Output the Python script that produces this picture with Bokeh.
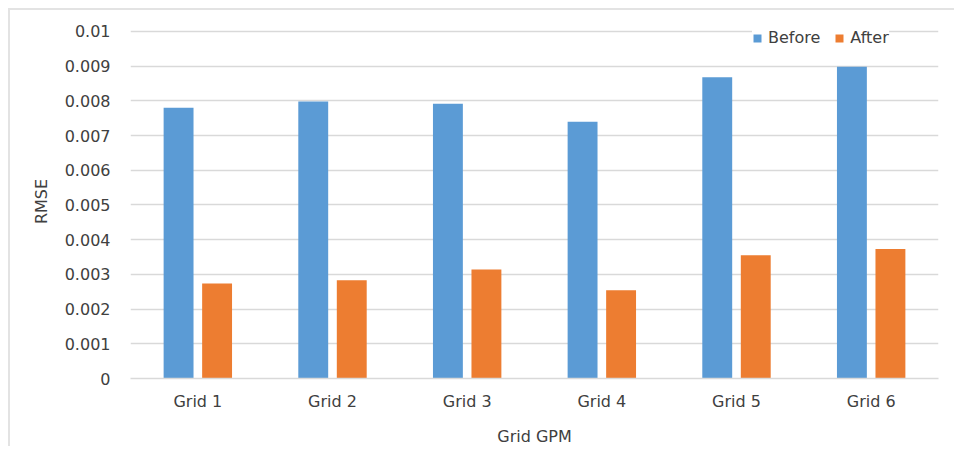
from bokeh.plotting import figure
from bokeh.models import ColumnDataSource, FactorRange, Range1d, FixedTicker, Legend, LegendItem
from bokeh.transform import dodge
from bokeh.embed import file_html
from bokeh.resources import INLINE

categories = ["Grid 1", "Grid 2", "Grid 3", "Grid 4", "Grid 5", "Grid 6"]
before = [0.00780, 0.00798, 0.00792, 0.00740, 0.00868, 0.00898]
after = [0.00274, 0.00283, 0.00314, 0.00254, 0.00355, 0.00373]
y_ticks = [0, 0.001, 0.002, 0.003, 0.004, 0.005, 0.006, 0.007, 0.008, 0.009, 0.01]
y_tick_labels = ["0", "0.001", "0.002", "0.003", "0.004", "0.005", "0.006", "0.007", "0.008", "0.009", "0.01"]

BLUE = "#5B9BD5"
ORANGE = "#ED7D31"
GRID = "#D9D9D9"
TEXT = "#404040"
FONT = "DejaVu Sans"

source = ColumnDataSource(data=dict(cat=categories, before=before, after=after))

p = figure(
    x_range=FactorRange(*categories, range_padding=0),
    y_range=Range1d(0, 0.0102),
    width=946, height=438,
    output_backend="svg", toolbar_location=None,
    min_border_left=120, min_border_right=18, min_border_top=14, min_border_bottom=60,
    styles={"margin-left": "8px", "margin-top": "8px",
            "border-left": "2px solid #E3E3E3", "border-top": "2px solid #E3E3E3"},
)
p.outline_line_color = None
p.background_fill_color = "white"
p.border_fill_color = "white"

r1 = p.vbar(x=dodge("cat", -0.143, range=p.x_range), top="before", width=0.222,
            source=source, fill_color=BLUE, line_color=None)
r2 = p.vbar(x=dodge("cat", 0.143, range=p.x_range), top="after", width=0.222,
            source=source, fill_color=ORANGE, line_color=None)

# axes
p.xgrid.grid_line_color = None
p.ygrid.grid_line_color = GRID
p.ygrid.grid_line_width = 1.3
p.yaxis.ticker = FixedTicker(ticks=y_ticks)
p.yaxis.major_label_overrides = {t: s for t, s in zip(y_ticks, y_tick_labels)}
p.yaxis.axis_line_color = None
p.yaxis.major_tick_line_color = None
p.yaxis.minor_tick_line_color = None
p.yaxis.major_label_standoff = 14
p.yaxis.major_label_text_font = FONT
p.yaxis.major_label_text_font_size = "16px"
p.yaxis.major_label_text_color = TEXT
p.yaxis.axis_label = "RMSE"
p.yaxis.axis_label_text_font = FONT
p.yaxis.axis_label_text_font_size = "16px"
p.yaxis.axis_label_text_font_style = "normal"
p.yaxis.axis_label_text_color = TEXT
p.yaxis.axis_label_standoff = 11

p.xaxis.axis_line_color = GRID
p.xaxis.axis_line_width = 1.3
p.xaxis.major_tick_line_color = None
p.xaxis.minor_tick_line_color = None
p.xaxis.major_label_standoff = 7
p.xaxis.major_label_text_font = FONT
p.xaxis.major_label_text_font_size = "16px"
p.xaxis.major_label_text_color = TEXT
p.xaxis.axis_label = "Grid GPM"
p.xaxis.axis_label_text_font = FONT
p.xaxis.axis_label_text_font_size = "16px"
p.xaxis.axis_label_text_font_style = "normal"
p.xaxis.axis_label_text_color = TEXT
p.xaxis.axis_label_standoff = 13

legend = Legend(items=[LegendItem(label="Before", renderers=[r1]),
                       LegendItem(label="After", renderers=[r2])],
                orientation="horizontal", location=(622, 331))
legend.glyph_width = 10
legend.glyph_height = 10
legend.label_standoff = 6
legend.spacing = 14
legend.padding = 4
legend.margin = 0
legend.border_line_color = None
legend.background_fill_color = "white"
legend.background_fill_alpha = 1
legend.label_text_font = FONT
legend.label_text_font_size = "16px"
legend.label_text_color = TEXT
p.add_layout(legend, "center")

open("out.html", "w").write(file_html(p, INLINE))
